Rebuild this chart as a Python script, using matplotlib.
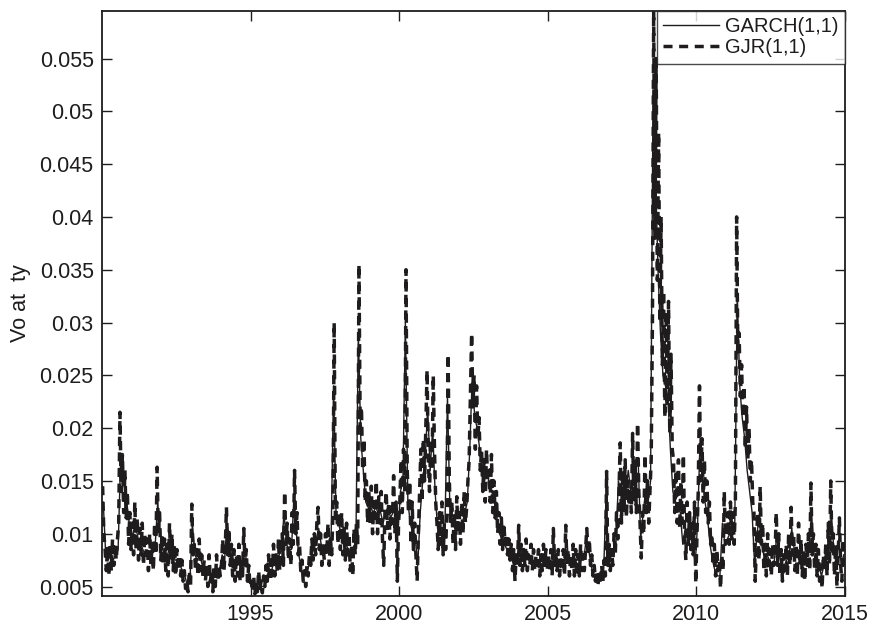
import numpy as np
import matplotlib
matplotlib.use('Agg')
import matplotlib.pyplot as plt
from matplotlib.ticker import FuncFormatter

plt.rcParams['font.family'] = ['Liberation Sans', 'DejaVu Sans']

# GJR(1,1) volatility, half-monthly readings, in units of 1e-3 (one row per year)
gjr = [
    14.5, 10, 8.5, 6.5, 8.8, 6, 9, 6.5, 9.5, 7, 9, 7.5, 9.5, 11, 21.5, 14, 17.5, 12, 16, 11.5, 14, 9, 12, 8.5,  # 1990
    11, 8, 13, 8.5, 11.5, 7.5, 10.5, 8, 11, 7, 10, 8, 9.5, 6.5, 10, 7, 9, 6.5, 11, 8, 16.3, 10, 12, 7.5,  # 1991
    10, 7, 9.5, 6.5, 9, 6, 11, 7.5, 10, 6.5, 9, 6, 8.5, 6.5, 8, 6, 7.5, 5.5, 6.5, 4.8, 5.5, 4.5, 6.5, 5,  # 1992
    12.8, 8, 9, 6.5, 8.5, 6, 9.5, 6.5, 8, 6, 7.5, 5.5, 7, 5, 8, 5.5, 6.5, 4.5, 7, 5, 8, 5.5, 7, 6,  # 1993
    7, 9.5, 6.5, 8.5, 12.5, 8, 10.5, 7, 9, 6, 8.5, 5.5, 8, 6, 9, 5.5, 7.5, 6, 10.5, 7, 8.5, 5.5, 7, 5,  # 1994
    5.5, 4.5, 6, 4.3, 5.5, 4.5, 6.5, 4.8, 5.5, 4.4, 6, 5, 7, 5.5, 8, 5.5, 7.5, 6, 9, 6, 8, 6.5, 9.5, 6.5,  # 1995
    8, 10, 7, 14, 9, 11, 7.5, 9.5, 7, 12, 9, 16, 10, 12, 8, 9, 6.5, 7.5, 5.5, 6.5, 5, 7, 6, 8,  # 1996
    7, 9.5, 7.5, 10, 8, 11, 12.5, 8.5, 10, 7, 9, 7.5, 10, 8, 11, 7, 9.5, 8, 12, 30, 11, 13, 9, 12,  # 1997
    8.5, 12, 8, 10.5, 7.5, 11, 8, 10, 6.5, 9, 6, 10.5, 8, 11, 9, 35.5, 20, 22, 16, 19, 13, 15, 11, 14,  # 1998
    11, 14.5, 10, 13, 11.5, 15, 10, 13.5, 11, 14, 9.5, 7, 12, 14, 10.5, 13, 9.5, 12.5, 11, 15.5, 10, 13, 5.5, 11,  # 1999
    13, 17, 12, 18, 14, 35, 16, 12, 15, 9, 13, 8.5, 11, 8, 5.5, 10, 14, 18, 13, 19, 15, 20, 25.5, 17,  # 2000
    14, 19, 16, 25, 18, 13, 11, 8.5, 12, 9, 13, 8, 11, 8.5, 12, 27, 15, 11, 13, 9, 12, 8.5, 13.5, 10,  # 2001
    12, 9, 13, 10, 14, 11, 12.5, 15, 17, 23, 29, 22, 25, 18, 24, 19, 21, 16, 18, 14, 17, 13, 18, 15,  # 2002
    16, 13, 17.5, 12, 15, 11.5, 14, 10, 12, 9, 11.5, 8.5, 11, 9, 10, 8, 9.5, 7.5, 9, 6.5, 8.5, 5.5, 8, 7,  # 2003
    10.8, 7, 9, 6.5, 8.5, 7, 9.5, 6.5, 8, 7, 9, 6.5, 8.5, 6.5, 8, 7, 8.5, 6, 8, 6.5, 9, 7, 8.5, 6.5,  # 2004
    8, 6.5, 8.5, 6, 10.5, 7, 8, 6.5, 8.5, 6, 7.5, 6.5, 8.5, 6, 10.8, 7, 8.5, 6, 8, 6.5, 9, 6, 8.5, 6,  # 2005
    8, 6, 9, 6.5, 8, 6.5, 8.5, 10.5, 8, 9.5, 7, 8, 6, 7, 5.5, 6.5, 5, 6.5, 5.2, 7, 5.5, 7.5, 6, 15.9,  # 2006
    7, 9, 6.5, 8.5, 7, 10, 8, 12, 9.5, 14, 18.6, 11, 16, 12, 17, 11.5, 15, 13, 14, 12, 19.5, 13, 17, 12,  # 2007
    20.5, 14, 11, 7.7, 12, 10, 17.5, 12, 15, 11, 14, 17, 30, 59.5, 38, 55, 34, 48, 30, 40, 26, 33, 21, 31,  # 2008
    22, 32, 19.5, 27, 18, 17, 12, 16, 11, 17, 10.5, 15, 11, 17.5, 9.5, 7.5, 13, 9, 12, 8.5, 11, 8, 13, 5.3,  # 2009
    10, 14, 24, 15, 19, 13, 17, 12, 15, 11, 13, 9, 10, 7, 9, 6, 8.5, 6.5, 7.5, 4.8, 8, 6.5, 14, 9,  # 2010
    10, 12, 9, 13, 9.5, 12, 9, 13, 40, 27, 29, 23, 26, 21, 24, 18, 22, 17, 20, 15, 17, 13, 12, 5.5,  # 2011
    9, 12, 7.5, 14.5, 9, 11, 6.5, 9, 6, 10, 7, 8.5, 6, 9, 7, 8, 12, 7, 10, 6, 8.5, 5.5, 8, 6.5,  # 2012
    9, 6, 10, 7, 12.5, 8, 10, 6.5, 9, 6, 11, 7, 9.5, 6, 8.5, 5.5, 9, 7, 10, 6.5, 14.8, 8, 10, 6.5,  # 2013
    9, 6, 8.5, 5.5, 7, 4.8, 8, 6.5, 9, 6, 11, 7, 15, 8, 10, 6, 9, 5, 8, 11.5, 7, 5.5, 9.5, 7,  # 2014
]

# GARCH(1,1) volatility, monthly readings, in units of 1e-3
garch = [
    13, 8, 7.5, 8, 7.5, 8, 8.5, 17, 15, 14, 12, 10,  # 1990
    10, 11, 9.5, 9, 8.5, 8, 8, 7.5, 9, 9, 13, 10,  # 1991
    8.5, 8, 8, 9, 8.5, 7.5, 7.5, 7, 6.5, 6, 5, 5.5,  # 1992
    11, 8, 7.5, 8, 7, 6.5, 6.5, 6.5, 5.5, 6, 6.5, 6.5,  # 1993
    8, 7.5, 11, 9, 7.5, 7, 7.5, 7, 6.5, 9, 7, 6,  # 1994
    5, 5, 5, 5.5, 5, 5, 6, 6.5, 6.5, 7.5, 7, 8,  # 1995
    8.5, 12, 9, 8.5, 8.5, 13.5, 10, 8, 6.5, 6, 6, 7,  # 1996
    8, 8.5, 9.5, 10.5, 9, 8.5, 9, 8.5, 9.5, 24, 12, 11,  # 1997
    10, 9.5, 9, 8.5, 8, 8.5, 9, 29, 19, 16, 13, 12.5,  # 1998
    12.5, 12, 12.5, 12, 12, 11, 12, 12.5, 11.5, 12, 12, 10,  # 1999
    14, 15, 30, 13, 11, 10, 9.5, 7, 12, 15, 17, 22,  # 2000
    16, 20, 14, 10.5, 10, 10, 11, 23, 12, 11, 10.5, 11,  # 2001
    10.5, 11, 12, 13, 18, 25, 21, 20, 18, 16, 15, 16,  # 2002
    14.5, 14, 13, 11.5, 10, 9.5, 9, 8.5, 8, 7.5, 7, 7.5,  # 2003
    9.5, 7.5, 7.5, 8, 7.5, 7.5, 7, 7.5, 7.5, 7, 7.5, 7.5,  # 2004
    7, 7, 9, 7, 7.5, 7, 7, 9.5, 7.5, 7, 7.5, 7,  # 2005
    7, 7.5, 7.5, 9.5, 8.5, 7, 6, 5.5, 5.5, 6, 6, 13.5,  # 2006
    8, 8.5, 8.5, 9, 15, 14, 13.5, 14, 16, 14, 15, 17,  # 2007
    17, 9.5, 12, 14, 13, 15, 52, 44, 35, 29, 25, 24,  # 2008
    23, 18, 14, 13, 12.5, 12, 9, 10.5, 10, 10, 9.5, 7,  # 2009
    11, 19, 15, 13, 11.5, 9, 7.5, 6.5, 6, 6, 11, 9,  # 2010
    9.5, 10, 10.5, 11, 33, 24, 21, 19, 16, 14, 12, 7,  # 2011
    10, 12, 9, 7.5, 8, 7.5, 7, 7.5, 10, 8, 7, 7,  # 2012
    7.5, 8, 10.5, 8.5, 8, 8, 7.5, 7, 8, 8.5, 12, 8,  # 2013
    7, 7, 6, 7, 7.5, 8, 12, 8.5, 7, 9.5, 7, 8,  # 2014
]

year_ticks = [1995, 2000, 2005, 2010, 2015]
vol_ticks = [0.005, 0.01, 0.015, 0.02, 0.025, 0.03, 0.035, 0.04, 0.045, 0.05, 0.055]

gjr = np.array(gjr) / 1000.0
garch = np.array(garch) / 1000.0
t_gjr = 1990 + (np.arange(len(gjr)) + 0.5) / 24.0
t_garch = 1990 + (np.arange(len(garch)) + 0.5) / 12.0

ink = '#1e1c1d'

fig = plt.figure(figsize=(8.74, 6.26), dpi=100)
ax = fig.add_axes([0.1167, 0.0479, 0.8501, 0.9345])

ax.plot(t_garch, garch, color=ink, lw=1.0, label='GARCH(1,1)')
ax.plot(t_gjr, gjr, color=ink, lw=2.5, dashes=(2.6, 1.9), label='GJR(1,1)')

ax.set_xlim(1990.0, 2015.0)
ax.set_ylim(0.0041, 0.0595)
ax.set_xticks(year_ticks)
ax.set_yticks(vol_ticks)
ax.yaxis.set_major_formatter(FuncFormatter(lambda v, p: '%g' % v))
ax.tick_params(direction='in', length=7, width=1, top=True, right=True,
               labelsize=15.5, colors=ink, pad=6)
for s in ax.spines.values():
    s.set_linewidth(1.3)
    s.set_color(ink)

ax.set_ylabel('Vo at  ty', fontsize=15.5, color=ink, labelpad=6)

leg = ax.legend(loc='upper right', fontsize=14.5, frameon=True, fancybox=False,
                borderaxespad=0, borderpad=0.3, labelspacing=0.12,
                handlelength=2.8, handletextpad=0.3)
leg.get_frame().set_edgecolor(ink)
leg.get_frame().set_linewidth(1.0)
for txt in leg.get_texts():
    txt.set_color(ink)

fig.savefig('out.png', dpi=100)
